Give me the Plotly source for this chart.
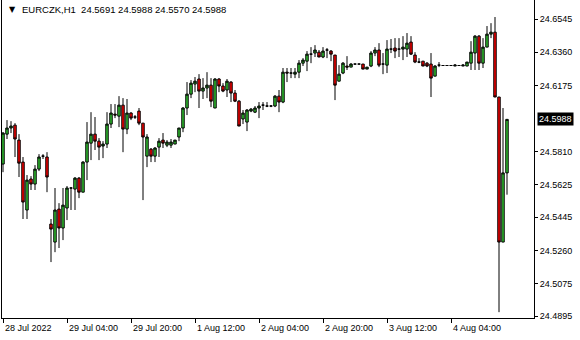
import plotly.graph_objects as go

symbol_title = "EURCZK,H1\u00a0\u00a024.5691 24.5988 24.5570 24.5988"

opens = [24.5740, 24.5906, 24.5940, 24.5956, 24.5873, 24.5751, 24.5485, 24.5657, 24.5629, 24.5712,
         24.5784, 24.5779, 24.5407, 24.5307, 24.5490, 24.5385, 24.5496, 24.5607, 24.5601, 24.5662,
         24.5584, 24.5751, 24.5856, 24.5906, 24.5867, 24.5840, 24.5851, 24.5962, 24.6017, 24.6006,
         24.6067, 24.5934, 24.6023, 24.6001, 24.6034, 24.5967, 24.5784, 24.5823, 24.5784, 24.5834,
         24.5873, 24.5845, 24.5845, 24.5851, 24.5890, 24.5940, 24.6051, 24.6128, 24.6184, 24.6212,
         24.6145, 24.6162, 24.6178, 24.6051, 24.6212, 24.6173, 24.6151, 24.6195, 24.6134, 24.6089,
         24.5990, 24.5973, 24.6034, 24.6028, 24.6051, 24.6067, 24.6062, 24.6062, 24.6062, 24.6117,
         24.6084, 24.6250, 24.6245, 24.6239, 24.6250, 24.6300, 24.6311, 24.6350, 24.6356, 24.6361,
         24.6334, 24.6373, 24.6367, 24.6345, 24.6200, 24.6245, 24.6284, 24.6278, 24.6295, 24.6295,
         24.6295, 24.6267, 24.6284, 24.6356, 24.6373, 24.6295, 24.6289, 24.6378, 24.6384, 24.6378,
         24.6378, 24.6378, 24.6417, 24.6345, 24.6306, 24.6311, 24.6300, 24.6295, 24.6228, 24.6289,
         24.6287, 24.6287, 24.6287, 24.6284, 24.6287, 24.6284, 24.6284, 24.6300, 24.6356, 24.6450,
         24.6300, 24.6389, 24.6461, 24.6472, 24.6112, 24.5307, 24.5691]
highs = [24.5917, 24.5984, 24.5978, 24.5967, 24.5906, 24.5779, 24.5679, 24.5673, 24.5734, 24.5795,
         24.5795, 24.5806, 24.5435, 24.5607, 24.5523, 24.5607, 24.5618, 24.5612, 24.5668, 24.5668,
         24.5756, 24.5973, 24.6028, 24.6001, 24.5884, 24.5867, 24.6028, 24.6073, 24.6073, 24.6117,
         24.6106, 24.6101, 24.6028, 24.6012, 24.6051, 24.5967, 24.5906, 24.5829, 24.5834, 24.5884,
         24.5912, 24.5873, 24.5879, 24.5873, 24.5940, 24.6056, 24.6195, 24.6206, 24.6223, 24.6239,
         24.6217, 24.6250, 24.6217, 24.6217, 24.6217, 24.6189, 24.6212, 24.6200, 24.6151, 24.6095,
         24.6040, 24.6045, 24.6051, 24.6062, 24.6084, 24.6084, 24.6084, 24.6067, 24.6123, 24.6151,
         24.6273, 24.6273, 24.6273, 24.6273, 24.6317, 24.6328, 24.6367, 24.6389, 24.6400, 24.6373,
         24.6389, 24.6384, 24.6373, 24.6345, 24.6289, 24.6306, 24.6339, 24.6300, 24.6295, 24.6295,
         24.6295, 24.6278, 24.6367, 24.6389, 24.6411, 24.6356, 24.6428, 24.6434, 24.6439, 24.6439,
         24.6450, 24.6467, 24.6450, 24.6361, 24.6328, 24.6311, 24.6306, 24.6356, 24.6289, 24.6306,
         24.6287, 24.6287, 24.6287, 24.6295, 24.6287, 24.6295, 24.6306, 24.6422, 24.6456, 24.6456,
         24.6439, 24.6506, 24.6522, 24.6556, 24.6112, 24.6051, 24.5988]
lows = [24.5695, 24.5879, 24.5912, 24.5779, 24.5668, 24.5435, 24.5435, 24.5596, 24.5596, 24.5701,
        24.5768, 24.5584, 24.5196, 24.5251, 24.5274, 24.5318, 24.5429, 24.5485, 24.5485, 24.5551,
        24.5584, 24.5651, 24.5762, 24.5818, 24.5762, 24.5773, 24.5829, 24.5940, 24.5995, 24.5945,
        24.5806, 24.5906, 24.5984, 24.5990, 24.5956, 24.5540, 24.5723, 24.5751, 24.5751, 24.5779,
        24.5829, 24.5834, 24.5829, 24.5851, 24.5867, 24.5917, 24.6012, 24.6106, 24.6139, 24.6051,
        24.6101, 24.6106, 24.6056, 24.6051, 24.6139, 24.6139, 24.6112, 24.6084, 24.6084, 24.5951,
        24.5962, 24.5923, 24.6028, 24.6023, 24.5995, 24.6040, 24.6056, 24.6056, 24.6056, 24.6028,
        24.6078, 24.6195, 24.6217, 24.6217, 24.6217, 24.6284, 24.6256, 24.6300, 24.6334, 24.6334,
        24.6328, 24.6328, 24.6311, 24.6095, 24.6200, 24.6239, 24.6262, 24.6278, 24.6295, 24.6295,
        24.6267, 24.6267, 24.6278, 24.6339, 24.6278, 24.6239, 24.6245, 24.6356, 24.6328, 24.6334,
        24.6317, 24.6334, 24.6345, 24.6300, 24.6300, 24.6284, 24.6278, 24.6112, 24.6228, 24.6278,
        24.6287, 24.6287, 24.6287, 24.6284, 24.6287, 24.6284, 24.6284, 24.6262, 24.6262, 24.6262,
        24.6273, 24.6389, 24.6439, 24.6112, 24.4918, 24.5307, 24.5570]
closes = [24.5912, 24.5940, 24.5951, 24.5879, 24.5745, 24.5529, 24.5651, 24.5629, 24.5712, 24.5779,
          24.5784, 24.5668, 24.5379, 24.5485, 24.5385, 24.5512, 24.5607, 24.5607, 24.5662, 24.5584,
          24.5751, 24.5862, 24.5906, 24.5867, 24.5834, 24.5851, 24.5962, 24.6023, 24.6012, 24.6067,
          24.5934, 24.6023, 24.5995, 24.6001, 24.5967, 24.5890, 24.5890, 24.5784, 24.5829, 24.5867,
          24.5856, 24.5862, 24.5862, 24.5873, 24.5940, 24.6051, 24.6128, 24.6189, 24.6200, 24.6145,
          24.6162, 24.6178, 24.6089, 24.6212, 24.6173, 24.6145, 24.6200, 24.6134, 24.6089, 24.5951,
          24.6023, 24.6040, 24.6045, 24.6051, 24.6062, 24.6067, 24.6062, 24.6062, 24.6117, 24.6084,
          24.6250, 24.6245, 24.6245, 24.6250, 24.6300, 24.6317, 24.6350, 24.6350, 24.6373, 24.6334,
          24.6367, 24.6373, 24.6350, 24.6178, 24.6239, 24.6300, 24.6278, 24.6295, 24.6295, 24.6295,
          24.6267, 24.6278, 24.6356, 24.6373, 24.6289, 24.6295, 24.6378, 24.6378, 24.6367, 24.6378,
          24.6389, 24.6411, 24.6350, 24.6306, 24.6306, 24.6284, 24.6284, 24.6217, 24.6284, 24.6289,
          24.6287, 24.6287, 24.6287, 24.6289, 24.6287, 24.6289, 24.6306, 24.6361, 24.6450, 24.6300,
          24.6389, 24.6461, 24.6472, 24.6112, 24.5307, 24.5691, 24.5988]

bar_index = list(range(len(opens)))

date_tick_index = [0, 16, 32, 48, 64, 80, 96, 112]
date_tick_labels = ["28 Jul 2022", "29 Jul 04:00", "29 Jul 20:00", "1 Aug 12:00",
                    "2 Aug 04:00", "2 Aug 20:00", "3 Aug 12:00", "4 Aug 04:00"]

price_ticks = [24.6545, 24.6360, 24.6175, 24.5810, 24.5625, 24.5445, 24.5260, 24.5075, 24.4895]
price_tick_labels = ["24.6545", "24.6360", "24.6175", "24.5810", "24.5625",
                     "24.5445", "24.5260", "24.5075", "24.4895"]
current_price = 24.5988
current_label = "24.5988"

FONT = "Liberation Sans, Arial, sans-serif"

fig = go.Figure()
fig.add_trace(go.Candlestick(
    x=bar_index, open=opens, high=highs, low=lows, close=closes,
    increasing=dict(line=dict(color="black", width=1), fillcolor="#32C832"),
    decreasing=dict(line=dict(color="black", width=1), fillcolor="#FF0000"),
    whiskerwidth=0, hoverinfo="skip", showlegend=False,
))

annotations = []
for idx, lab in zip(date_tick_index, date_tick_labels):
    annotations.append(dict(x=idx, xref="x", y=-10 / 318, yref="paper", text=lab,
                            showarrow=False, xanchor="left", yanchor="middle", xshift=0,
                            font=dict(family=FONT, size=9, color="black")))
annotations.append(dict(x=1, xref="paper", y=current_price, yref="y", text=current_label,
                        showarrow=False, xanchor="left", yanchor="middle", xshift=3,
                        bgcolor="black", borderpad=1,
                        font=dict(family=FONT, size=9, color="white")))
annotations.append(dict(x=18 / 532, xref="paper", y=1 - 10 / 318, yref="paper",
                        text=symbol_title, showarrow=False, xanchor="left", yanchor="middle",
                        font=dict(family=FONT, size=9.5, color="black")))
annotations.append(dict(x=5 / 532, xref="paper", y=1 - 10 / 318, yref="paper",
                        text="\u25bc", showarrow=False, xanchor="left", yanchor="middle",
                        font=dict(family="DejaVu Sans", size=8, color="black")))

fig.update_layout(
    width=580, height=340,
    margin=dict(l=2, r=46, t=0, b=22),
    paper_bgcolor="white", plot_bgcolor="white",
    boxgap=0.12,
    annotations=annotations,
    xaxis=dict(range=[-0.25, 132.75], rangeslider=dict(visible=False),
               showgrid=False, zeroline=False, showline=True, linecolor="black", linewidth=1,
               mirror=False, tickmode="array", tickvals=date_tick_index, showticklabels=False,
               ticks="outside", ticklen=4, tickcolor="black", tickwidth=1, fixedrange=True),
    yaxis=dict(range=[24.48856, 24.66505], side="right", showgrid=False, zeroline=False,
               showline=True, linecolor="black", linewidth=1, mirror=True,
               tickmode="array", tickvals=price_ticks, ticktext=price_tick_labels,
               ticks="outside", ticklen=3, tickcolor="black", tickwidth=1,
               tickfont=dict(family=FONT, size=9, color="black"), fixedrange=True),
)

fig.write_html("out.html")
